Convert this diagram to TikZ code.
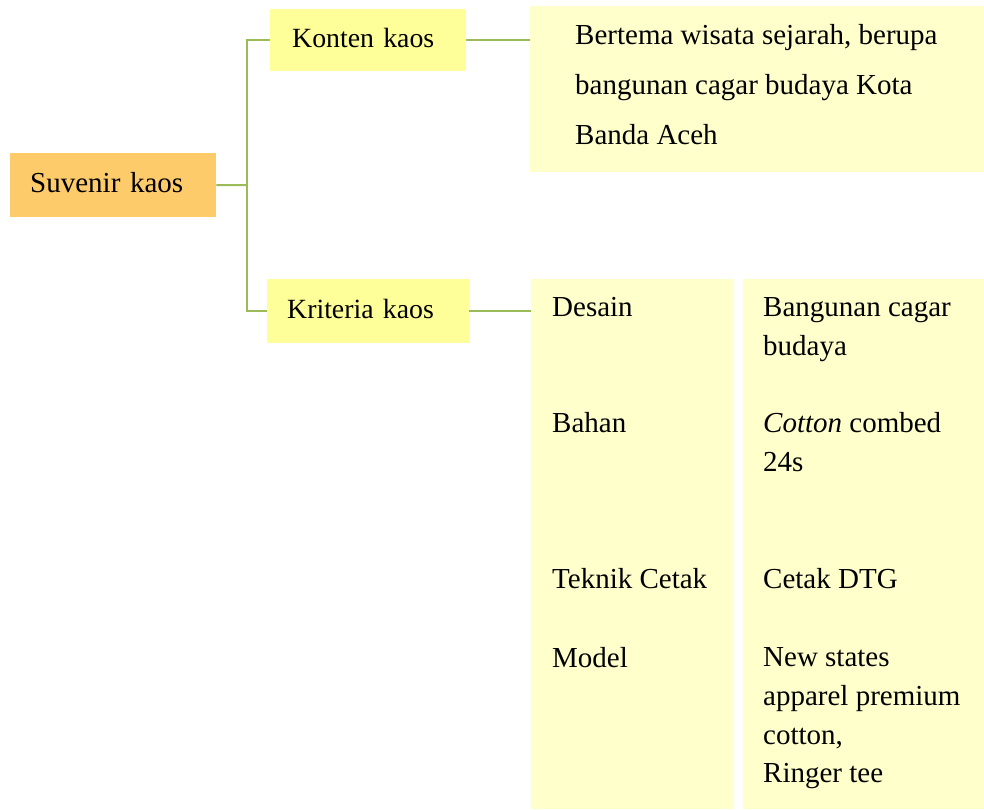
\documentclass[tikz,border=0pt]{standalone}
\usepackage{fontspec}
\setmainfont{Liberation Serif}
\usepackage{xcolor}
\usetikzlibrary{positioning,calc}

\definecolor{rootfill}{HTML}{FECB6A}
\definecolor{topicfill}{HTML}{FFFF99}
\definecolor{infofill}{HTML}{FFFFCC}
\definecolor{linkgreen}{HTML}{9BBB59}

\begin{document}
\begin{tikzpicture}[
    x=1pt, y=-1pt,
    rootbox/.style={rectangle, fill=rootfill, inner xsep=20pt, inner ysep=0pt, minimum height=64pt, text height=20pt, text depth=6pt, align=left, font=\fontsize{29}{38.7}\selectfont},
    topicbox/.style={rectangle, fill=topicfill, inner xsep=20pt, inner ysep=0pt, minimum height=64pt, text height=20pt, text depth=6pt, align=left, font=\fontsize{27.8}{38.7}\selectfont},
    infobox/.style={rectangle, fill=infofill, inner sep=0pt},
    entry/.style={inner sep=0pt, align=left, anchor=north west, font=\fontsize{29}{38.7}\selectfont},
    link/.style={draw=linkgreen, line width=2pt}
]
    \useasboundingbox (0,0) rectangle (984,809);

    % Root
    \node[rootbox, text width=166pt, anchor=north west] (suvenir) at (10,153) {Suvenir kaos};

    % Branches
    \node[topicbox, text width=152pt, inner xsep=22pt, minimum height=62pt, anchor=north west] (konten) at (270,9) {Konten kaos};
    \node[topicbox, text width=162pt, anchor=north west] (kriteria) at (267,279) {Kriteria kaos};

    % Info boxes
    \node[infobox, minimum width=454pt, minimum height=166pt, anchor=north west] (isi) at (530,6) {};
    \node[infobox, minimum width=202pt, minimum height=530pt, anchor=north west] (kol1) at (531,279) {};
    \node[infobox, minimum width=241pt, minimum height=530pt, anchor=north west] (kol2) at (743,279) {};

    % Texts (top of first line)
    \node[entry, font=\fontsize{29}{50}\selectfont] (isitext) at (575,24) {Bertema wisata sejarah, berupa\\bangunan cagar budaya Kota\\Banda Aceh};
    \node[entry] (desain) at (552,297.5) {Desain};
    \node[entry] (bahan) at (552,412.5) {Bahan};
    \node[entry] (teknik) at (552,568.5) {Teknik Cetak};
    \node[entry] (model) at (552,647.5) {Model};
    \node[entry] (desainval) at (763,297.5) {Bangunan cagar\\budaya};
    \node[entry] (bahanval) at (763,412.5) {\textit{Cotton} combed\\24s};
    \node[entry] (teknikval) at (763,568.5) {Cetak DTG};
    \node[entry] (modelval) at (763,647.5) {New states\\apparel premium\\cotton,\\Ringer tee};

    % Connectors
    \coordinate (fork) at (247,185);
    \draw[link] (suvenir.east) -- (fork);
    \draw[link] (konten.west) -| (fork) |- (kriteria.west);
    \draw[link] (konten.east) -- (konten.east -| isi.west);
    \draw[link] (kriteria.east) -- (kriteria.east -| kol1.west);
\end{tikzpicture}
\end{document}
